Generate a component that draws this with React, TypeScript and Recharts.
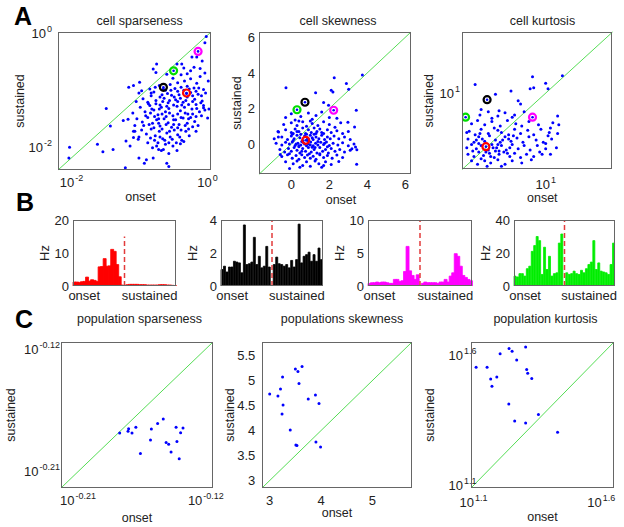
import { ScatterChart, Scatter, XAxis, YAxis, ReferenceLine, BarChart, Bar } from 'recharts';

const FONT = '"Liberation Sans", Arial, Helvetica, sans-serif';
const TEXT = '#222';
const DOT = '#0000ff';
const DIAG = '#55dd55';
const DASH = '#e23b3b';
const EXAMPLE_COLORS = ['#ff0000', '#000000', '#ff00ff', '#00dd00'];

// A: per-cell measures, onset vs sustained (sparseness and kurtosis as log10)
const A1_SPARSENESS_LOG = [
  [-2.03, -2.0], [-2.04, -2.19], [-1.49, -1.32], [-1.43, -1.63], [-1.62, -1.95], [-1.54, -2.08], [-1.39, -2.04],
  [-1.21, -2.36], [-1.24, -1.53], [-1.17, -1.51], [-1.16, -0.95], [-1.09, -0.92], [-1.0, -0.86], [-1.07, -1.72],
  [-0.97, -1.01], [-0.75, -0.54], [-0.8, -0.63], [-0.76, -0.69], [-0.6, -0.72], [-0.45, -0.54], [-0.38, -0.54],
  [-0.35, -0.61], [-0.23, -0.42], [-0.16, -0.42], [-0.04, -0.17], [-0.02, -0.06], [-0.08, -0.49], [0.01, -0.84],
  [0.02, -1.33], [-0.06, -1.31], [0.0, -1.49], [-0.57, -2.34], [-0.6, -2.28], [-0.72, -2.04], [-0.65, -2.04],
  [-0.75, -1.98], [-1.01, -2.19], [-0.9, -2.22], [-0.93, -2.28], [-0.8, -2.19], [-1.2, -1.89], [-1.09, -1.83],
  [-1.14, -1.98], [-1.02, -1.86],
  [-0.85, -0.98], [-0.79, -1.03], [-0.71, -0.92], [-0.67, -1.08], [-0.62, -1.0], [-0.55, -0.9], [-0.48, -0.97],
  [-0.44, -0.87], [-0.39, -0.95], [-0.34, -0.84], [-0.3, -0.93], [-0.25, -0.8], [-0.2, -0.96], [-0.16, -0.88],
  [-0.11, -0.76], [-0.06, -0.99], [-0.04, -0.7], [-0.25, -0.66], [-0.39, -0.73], [-0.51, -0.79], [-0.2, -0.6],
  [-0.3, -0.71], [-0.11, -0.62],
  [-0.95, -1.15], [-0.88, -1.21], [-0.83, -1.1], [-0.76, -1.18], [-0.7, -1.26], [-0.64, -1.14], [-0.58, -1.22],
  [-0.53, -1.09], [-0.47, -1.17], [-0.42, -1.08], [-0.36, -1.21], [-0.3, -1.12], [-0.25, -1.04], [-0.19, -1.16],
  [-0.14, -1.07], [-0.08, -1.19], [-0.03, -1.05],
  [-0.99, -1.3], [-0.92, -1.38], [-0.85, -1.27], [-0.79, -1.35], [-0.73, -1.43], [-0.68, -1.3], [-0.62, -1.38],
  [-0.57, -1.32], [-0.51, -1.45], [-0.45, -1.28], [-0.4, -1.36], [-0.34, -1.3], [-0.29, -1.42], [-0.23, -1.33],
  [-0.17, -1.25], [-0.12, -1.38], [-0.06, -1.27],
  [-1.04, -1.5], [-0.96, -1.56], [-0.88, -1.48], [-0.81, -1.58], [-0.75, -1.52], [-0.7, -1.63], [-0.64, -1.5],
  [-0.58, -1.57], [-0.53, -1.65], [-0.47, -1.52], [-0.42, -1.6], [-0.36, -1.49], [-0.3, -1.58], [-0.25, -1.48],
  [-0.19, -1.55], [-0.14, -1.62],
  [-0.97, -1.7], [-0.9, -1.77], [-0.83, -1.68], [-0.77, -1.8], [-0.71, -1.72], [-0.66, -1.85], [-0.6, -1.75],
  [-0.55, -1.82], [-0.49, -1.7], [-0.44, -1.78], [-0.38, -1.88], [-0.32, -1.72], [-0.27, -1.8],
  [-0.88, -1.92], [-0.81, -2.01], [-0.73, -1.92], [-0.68, -2.06], [-0.62, -1.95], [-0.57, -2.11], [-0.51, -1.98],
  [-0.45, -2.06], [-0.4, -1.94],
  [-0.83, -1.05], [-0.77, -0.95], [-0.7, -1.12], [-0.65, -0.98], [-0.59, -1.06], [-0.54, -1.0], [-0.49, -1.12],
  [-0.44, -1.02], [-0.4, -1.14], [-0.35, -1.0], [-0.31, -1.06], [-0.27, -0.98], [-0.22, -1.1], [-0.17, -1.02],
  [-0.13, -0.96], [-0.09, -1.1],
  [-0.87, -1.24], [-0.82, -1.33], [-0.76, -1.24], [-0.71, -1.33], [-0.66, -1.2], [-0.6, -1.28], [-0.56, -1.18],
  [-0.5, -1.26], [-0.44, -1.2], [-0.38, -1.26], [-0.32, -1.18], [-0.28, -1.25], [-0.22, -1.2], [-0.16, -1.32],
  [-0.1, -1.22], [-0.04, -1.35],
  [-0.91, -1.45], [-0.84, -1.4], [-0.78, -1.46], [-0.72, -1.5], [-0.67, -1.42], [-0.61, -1.46], [-0.56, -1.4],
  [-0.5, -1.52], [-0.44, -1.42], [-0.39, -1.48], [-0.33, -1.4], [-0.28, -1.5], [-0.22, -1.42], [-0.17, -1.46],
  [-0.09, -1.45],
  [-0.94, -1.62], [-0.86, -1.6], [-0.79, -1.66], [-0.72, -1.58], [-0.67, -1.68], [-0.61, -1.6], [-0.56, -1.72],
  [-0.5, -1.6], [-0.44, -1.66], [-0.39, -1.7], [-0.33, -1.62], [-0.28, -1.68], [-0.22, -1.64], [-0.17, -1.72],
  [-0.84, -1.84], [-0.78, -1.88], [-0.7, -1.82], [-0.63, -1.88], [-0.57, -1.92], [-0.52, -1.86], [-0.46, -1.92],
  [-0.41, -1.82], [-0.35, -1.9],
  [-1.01, -1.82], [-1.07, -1.62], [-1.1, -1.4], [-1.05, -1.2], [-1.01, -1.05], [-1.09, -1.72],
];
// example cells, in order red, black, magenta, green
const A1_EXAMPLES = [[-0.31, -1.05], [-0.65, -0.95], [-0.14, -0.32], [-0.5, -0.66]];

const A2_SKEWNESS = [
  [-0.28, 3.17], [2.26, 3.73], [3.74, 3.88], [2.9, 3.4], [3.02, 3.08], [1.28, 2.89], [2.1, 3.02], [2.19, 2.93],
  [1.7, 2.33], [1.96, 2.18], [3.42, 1.9], [2.98, 1.22], [3.33, 0.96], [3.38, -0.17], [3.45, -0.32], [3.19, -0.26],
  [3.44, -1.14], [-0.09, -1.38], [1.7, -1.2], [-0.67, 0.68], [-0.68, 0.4], [-0.58, -0.58],
  [0.0, 1.7], [0.5, 1.55], [0.9, 1.75], [1.3, 1.6], [1.6, 1.8], [2.0, 1.5], [0.2, 1.35], [1.1, 1.4], [2.4, 1.45],
  [-0.3, 1.5],
  [-0.4, 1.1], [0.0, 1.2], [0.3, 1.05], [0.6, 1.25], [0.8, 1.0], [1.1, 1.15], [1.4, 1.05], [1.7, 1.25], [2.0, 1.1],
  [2.3, 0.95], [2.6, 1.2], [1.0, 1.3], [0.4, 1.3],
  [-0.7, 0.7], [-0.3, 0.8], [0.0, 0.65], [0.2, 0.85], [0.4, 0.7], [0.6, 0.9], [0.75, 0.6], [0.9, 0.8], [1.05, 0.65],
  [1.2, 0.9], [1.35, 0.7], [1.5, 0.85], [1.7, 0.6], [1.9, 0.8], [2.1, 0.65], [2.4, 0.75], [2.7, 0.6], [3.0, 0.7],
  [0.1, 0.6], [1.6, 0.65],
  [-0.9, 0.3], [-0.5, 0.4], [-0.2, 0.25], [0.0, 0.45], [0.15, 0.3], [0.3, 0.5], [0.45, 0.35], [0.6, 0.2], [0.7, 0.45],
  [0.85, 0.3], [1.0, 0.5], [1.15, 0.25], [1.3, 0.4], [1.45, 0.3], [1.6, 0.5], [1.75, 0.25], [1.9, 0.4], [2.05, 0.3],
  [2.25, 0.45], [2.5, 0.3], [2.8, 0.4], [3.1, 0.25], [0.5, 0.55], [1.2, 0.55],
  [-0.8, 0.05], [-0.5, -0.05], [-0.3, 0.1], [-0.1, 0.0], [0.05, 0.12], [0.2, -0.08], [0.35, 0.05], [0.5, -0.05],
  [0.62, 0.1], [0.9, 0.0], [1.02, 0.12], [1.15, -0.1], [1.28, 0.05], [1.4, -0.05], [1.55, 0.1], [1.7, -0.02],
  [1.85, 0.12], [2.0, -0.08], [2.2, 0.05], [2.45, -0.05], [2.7, 0.08], [3.0, -0.1], [3.3, 0.0], [0.8, -0.1],
  [-0.6, -0.3], [-0.35, -0.45], [-0.15, -0.25], [0.0, -0.4], [0.15, -0.2], [0.3, -0.35], [0.45, -0.5], [0.6, -0.25],
  [0.75, -0.4], [0.9, -0.2], [1.05, -0.45], [1.2, -0.3], [1.35, -0.5], [1.5, -0.2], [1.65, -0.4], [1.8, -0.3],
  [1.95, -0.5], [2.1, -0.25], [2.3, -0.4], [2.55, -0.3], [2.8, -0.45], [3.1, -0.35], [0.4, -0.15], [1.1, -0.18],
  [-0.5, -0.7], [-0.2, -0.6], [0.05, -0.8], [0.25, -0.65], [0.4, -0.85], [0.55, -0.6], [0.7, -0.75], [0.85, -0.62],
  [1.0, -0.8], [1.15, -0.68], [1.3, -0.85], [1.5, -0.6], [1.7, -0.75], [1.9, -0.65], [2.15, -0.8], [2.4, -0.62],
  [2.7, -0.75],
  [-0.3, -1.0], [0.1, -1.1], [0.3, -0.95], [0.6, -1.2], [0.8, -1.0], [1.0, -1.25], [1.25, -0.95], [1.45, -1.1],
  [1.8, -1.0], [2.1, -1.15], [2.5, -0.98], [0.45, -1.3], [1.6, -1.3],
  [0.1, 0.2], [0.25, 0.0], [0.4, -0.1], [0.55, 0.15], [0.7, 0.0], [0.85, 0.2], [1.0, -0.05], [1.1, 0.35],
  [1.25, -0.2], [1.4, 0.15], [0.3, 0.7], [0.55, -0.4], [0.8, 0.55], [0.95, -0.55], [1.3, 0.6], [1.5, -0.55],
  [1.75, 0.05], [-0.1, -0.55], [0.05, 0.55], [1.9, -0.15],
];
const A2_EXAMPLES = [[0.76, 0.21], [0.72, 2.35], [2.23, 1.9], [0.3, 1.93]];

const A3_KURTOSIS_LOG = [
  [0.41, 1.08], [0.58, 0.99], [0.71, 1.02], [0.89, 1.15], [0.9, 1.05], [0.87, 1.04], [1.0, 1.09], [1.02, 1.04],
  [1.14, 1.16], [0.77, 0.93], [0.79, 0.9], [0.46, 0.85], [0.61, 0.84], [0.34, 0.64], [0.72, 0.78], [1.1, 0.79],
  [1.11, 0.71], [1.04, 0.68], [1.02, 0.61], [1.1, 0.63], [1.0, 0.49], [1.04, 0.44], [1.09, 0.5], [0.95, 0.46],
  [0.45, 0.8], [0.52, 0.83], [0.6, 0.79], [0.66, 0.82], [0.74, 0.8], [0.82, 0.83], [0.55, 0.77],
  [0.38, 0.72], [0.43, 0.75], [0.49, 0.71], [0.55, 0.74], [0.62, 0.7], [0.68, 0.75], [0.75, 0.72], [0.8, 0.7],
  [0.86, 0.74], [0.94, 0.71], [1.06, 0.73],
  [0.36, 0.65], [0.41, 0.62], [0.46, 0.67], [0.52, 0.63], [0.57, 0.68], [0.63, 0.64], [0.69, 0.62], [0.74, 0.67],
  [0.79, 0.63], [0.85, 0.66], [0.9, 0.62], [0.96, 0.67], [1.03, 0.64], [0.6, 0.66],
  [0.35, 0.58], [0.4, 0.55], [0.44, 0.6], [0.49, 0.56], [0.53, 0.61], [0.58, 0.57], [0.62, 0.55], [0.66, 0.6],
  [0.71, 0.56], [0.76, 0.59], [0.81, 0.55], [0.86, 0.6], [0.92, 0.57], [0.98, 0.55], [1.05, 0.58], [0.47, 0.58],
  [0.69, 0.58],
  [0.34, 0.5], [0.38, 0.53], [0.42, 0.49], [0.46, 0.52], [0.52, 0.48], [0.55, 0.53], [0.59, 0.5], [0.63, 0.52],
  [0.67, 0.48], [0.72, 0.53], [0.77, 0.49], [0.82, 0.52], [0.87, 0.48], [0.93, 0.52], [1.0, 0.54], [0.44, 0.54],
  [0.61, 0.47], [0.7, 0.5],
  [0.35, 0.44], [0.4, 0.42], [0.44, 0.46], [0.48, 0.43], [0.53, 0.45], [0.57, 0.41], [0.61, 0.44], [0.65, 0.46],
  [0.7, 0.42], [0.74, 0.45], [0.79, 0.41], [0.84, 0.44], [0.9, 0.42], [0.97, 0.44], [0.46, 0.4], [0.58, 0.47],
  [0.38, 0.38], [0.43, 0.35], [0.49, 0.38], [0.54, 0.36], [0.6, 0.39], [0.66, 0.35], [0.72, 0.38], [0.8, 0.36],
  [0.88, 0.39], [0.51, 0.33], [0.63, 0.33],
  [0.42, 0.57], [0.5, 0.46], [0.56, 0.5], [0.64, 0.57], [0.68, 0.45], [0.45, 0.63], [0.73, 0.61], [0.39, 0.47],
  [0.54, 0.42], [0.6, 0.53],
];
const A3_EXAMPLES = [[0.5, 0.51], [0.51, 0.94], [0.89, 0.78], [0.33, 0.78]];

// B: firing rate (Hz) per time bin of the four example cells
const B1_ONSET = [1.2, 1.2, 1.1, 1.3, 1.4, 2.7, 1.5, 1.9, 1.7, 1.4, 5.8, 5.9, 8.3, 6.0, 6.1, 11.1, 10.5, 6.5, 2.8, 0.3];
const B1_SUSTAINED = [0.4, 0.5, 0.5, 0.5, 0.5, 0.4, 0.4, 0.4, 0.3, 0.3, 0.3, 0.3, 0.3, 0.4, 0.4, 0.4, 0.3, 0.3, 0.2, 0.1];
const B2_ONSET = [1.0, 1.2, 0.85, 1.15, 1.15, 1.5, 1.45, 1.4, 0.8, 3.7, 1.3, 1.35, 1.45, 2.95, 1.3, 1.8, 1.1, 1.2, 2.4, 1.15];
const B2_SUSTAINED = [1.3, 1.75, 1.35, 1.3, 1.2, 1.3, 1.1, 1.55, 1.15, 1.6, 3.75, 1.4, 1.8, 1.9, 2.05, 1.5, 1.9, 1.5, 2.3, 1.6];
const B3_ONSET = [0.4, 0.5, 0.5, 0.6, 0.5, 0.6, 0.6, 0.5, 0.4, 0.4, 1.0, 1.0, 0.7, 0.8, 2.2, 6.0, 2.3, 1.6, 1.0, 1.7];
const B3_SUSTAINED = [0.4, 0.6, 0.5, 0.5, 0.5, 0.5, 0.4, 0.6, 0.6, 1.0, 0.6, 1.5, 2.0, 4.9, 4.5, 3.0, 1.6, 1.3, 1.0, 0.8];
const B4_ONSET = [6, 5.5, 7.5, 7.5, 6, 10.5, 12, 21, 24.5, 30, 27.5, 7, 23.5, 10, 18, 6, 7.5, 8, 26, 31.5];
const B4_SUSTAINED = [8, 7, 7.5, 9, 7.5, 7, 9.5, 8, 10.5, 13, 14.5, 27.5, 10, 14, 9, 8.5, 8, 7, 13, 26];

// C: population measures (sparseness and kurtosis as log10)
const C1_SPARSENESS_LOG = [
  [-0.1807, -0.1817], [-0.1744, -0.1785], [-0.1748, -0.1805], [-0.172, -0.1817], [-0.1693, -0.1775],
  [-0.1661, -0.1968], [-0.1584, -0.1788], [-0.159, -0.1868], [-0.154, -0.1748], [-0.15, -0.1714],
  [-0.148, -0.1887], [-0.1462, -0.19], [-0.1445, -0.1956], [-0.141, -0.1775], [-0.1404, -0.188],
  [-0.1378, -0.1815], [-0.1361, -0.178], [-0.1388, -0.2005],
];
const C2_SKEWNESS = [
  [3.0, 4.73], [3.16, 4.69], [3.21, 4.83], [3.25, 5.07], [3.26, 4.51], [3.24, 4.33], [3.4, 4.01], [3.5, 5.23],
  [3.55, 5.18], [3.57, 4.94], [3.63, 5.28], [3.51, 3.71], [3.53, 3.7], [3.75, 4.63], [3.89, 4.71], [3.96, 4.54],
  [3.9, 3.77], [3.99, 3.67],
];
const C3_KURTOSIS_LOG = [
  [1.11, 1.553], [1.153, 1.553], [1.167, 1.508], [1.172, 1.48], [1.191, 1.516], [1.204, 1.605], [1.239, 1.625],
  [1.251, 1.615], [1.269, 1.581], [1.304, 1.631], [1.308, 1.545], [1.312, 1.53], [1.328, 1.51], [1.238, 1.412],
  [1.261, 1.347], [1.304, 1.339], [1.354, 1.372], [1.429, 1.304],
];

const Dot = (p: any) => <circle cx={p.cx} cy={p.cy} r={1.5} fill={DOT} />;

const ringShape = (color: string) => (p: any) => (
  <g>
    <circle cx={p.cx} cy={p.cy} r={3.5} fill="none" stroke={color} strokeWidth={2.2} />
    <circle cx={p.cx} cy={p.cy} r={1.3} fill={DOT} />
  </g>
);

function PowTick(props: any) {
  const { x, y, payload, vertical, gap } = props;
  const exp = String(payload.value);
  if (vertical) {
    return (
      <text x={x - gap} y={y} dy="0.36em" textAnchor="end" fontSize={13} fill={TEXT}>
        10<tspan dx={1} dy={-6} fontSize={9}>{exp}</tspan>
      </text>
    );
  }
  return (
    <text x={x} y={y + gap} dy="0.8em" textAnchor="middle" fontSize={13} fill={TEXT}>
      10<tspan dx={1} dy={-6} fontSize={9}>{exp}</tspan>
    </text>
  );
}

function ScatterPanel(p: any) {
  const [L, T, w, h] = p.frame;
  const mt = 14, mr = 26, xh = 44;
  const data = p.points.map(([x, y]: number[]) => ({ x, y }));
  return (
    <div style={{ position: 'absolute', left: L - p.yw, top: T - mt }}>
      <ScatterChart width={p.yw + w + mr} height={mt + h + xh} margin={{ top: mt, right: mr, bottom: 0, left: 0 }}>
        <XAxis
          type="number" dataKey="x" domain={p.xDomain} ticks={p.xTicks} allowDataOverflow interval={0}
          axisLine={false} tickLine={false} tickSize={0} tickMargin={p.pow ? 0 : p.xGap} height={xh}
          tick={p.pow ? (t: any) => <PowTick {...t} gap={p.xGap} /> : { fontSize: 13, fill: TEXT }}
          label={{ value: 'onset', position: 'insideTop', offset: p.xlab, dx: p.xlabDx || 0, style: { fontSize: 12.5, fill: TEXT } }}
        />
        <YAxis
          type="number" dataKey="y" domain={p.yDomain} ticks={p.yTicks} allowDataOverflow interval={0}
          axisLine={false} tickLine={false} tickSize={0} tickMargin={p.pow ? 0 : p.yGap} width={p.yw}
          tick={p.pow ? (t: any) => <PowTick {...t} vertical gap={p.yGap} /> : { fontSize: 13, fill: TEXT }}
          label={{ value: 'sustained', angle: -90, position: 'insideLeft', offset: p.yw - p.ylab, style: { textAnchor: 'middle', fontSize: 12.5, fill: TEXT } }}
        />
        <ReferenceLine
          segment={[{ x: p.xDomain[0], y: p.yDomain[0] }, { x: p.xDomain[1], y: p.yDomain[1] }]}
          stroke={DIAG} strokeWidth={1} ifOverflow="visible"
        />
        <Scatter data={data} shape={Dot} isAnimationActive={false} />
        {(p.examples || []).map((e: number[], i: number) => (
          <Scatter key={i} data={[{ x: e[0], y: e[1] }]} shape={ringShape(EXAMPLE_COLORS[i])} isAnimationActive={false} />
        ))}
      </ScatterChart>
      <div style={{ position: 'absolute', left: p.yw, top: mt, width: w, height: h, border: '1px solid #666', boxSizing: 'border-box', pointerEvents: 'none' }} />
    </div>
  );
}

function HistPanel({ left, width, onset, sustained, color, yMax, yTicks, dashTop }: any) {
  const T = 219.5, h = 66, yw = 36, mt = 8, mr = 6, xh = 24;
  const gapBin = onset.length;
  const data = [
    ...onset.map((hz: number, i: number) => ({ bin: i, hz })),
    { bin: gapBin, hz: null },
    ...sustained.map((hz: number, i: number) => ({ bin: gapBin + 1 + i, hz })),
  ];
  return (
    <div style={{ position: 'absolute', left: left - yw, top: T - mt }}>
      <BarChart width={yw + width + mr} height={mt + h + xh} data={data} margin={{ top: mt, right: mr, bottom: 0, left: 0 }} barCategoryGap={0} barGap={0}>
        <XAxis
          dataKey="bin" interval={0} axisLine={false} tickLine={false} tickSize={0} tickMargin={5} height={xh}
          tickFormatter={(v: number) => (v === 4 ? 'onset' : v === 30 ? 'sustained' : '')}
          tick={{ fontSize: 13, fill: TEXT }}
        />
        <YAxis
          domain={[0, yMax]} ticks={yTicks} allowDataOverflow interval={0} width={yw}
          axisLine={false} tickLine={false} tickSize={0} tickMargin={4} tick={{ fontSize: 13, fill: TEXT }}
          label={{ value: 'Hz', angle: -90, position: 'insideLeft', offset: 7, style: { textAnchor: 'middle', fontSize: 13, fill: TEXT } }}
        />
        <Bar dataKey="hz" fill={color} stroke={color} strokeWidth={0.8} isAnimationActive={false} />
        <ReferenceLine
          segment={[{ x: gapBin, y: 0 }, { x: gapBin, y: dashTop }]}
          stroke={DASH} strokeWidth={1.5} strokeDasharray="5 3" ifOverflow="visible"
        />
      </BarChart>
      <div style={{ position: 'absolute', left: yw, top: mt, width, height: h, border: '1px solid #666', boxSizing: 'border-box', pointerEvents: 'none' }} />
    </div>
  );
}

const Txt = ({ x, y, size = 12.5, bold = false, children }: any) => (
  <div style={{ position: 'absolute', left: x, top: y, transform: 'translate(-50%, -50%)', fontSize: size, fontWeight: bold ? 700 : 400, lineHeight: 1, whiteSpace: 'nowrap', color: bold ? '#000' : TEXT }}>
    {children}
  </div>
);

export default function App() {
  return (
    <div style={{ position: 'absolute', left: 0, top: 0, width: 624, height: 527, background: '#fff', fontFamily: FONT, overflow: 'hidden' }}>
      <Txt x={23} y={16} size={25} bold>A</Txt>
      <Txt x={25} y={202} size={25} bold>B</Txt>
      <Txt x={24} y={319} size={25} bold>C</Txt>

      <Txt x={139.7} y={21}>cell sparseness</Txt>
      <Txt x={338} y={21}>cell skewness</Txt>
      <Txt x={542.5} y={21}>cell kurtosis</Txt>
      <Txt x={139.5} y={318.5}>population sparseness</Txt>
      <Txt x={342} y={318.5}>populations skewness</Txt>
      <Txt x={545.5} y={318.5}>population kurtosis</Txt>

      <ScatterPanel frame={[58, 31.7, 153, 138]} points={A1_SPARSENESS_LOG} examples={A1_EXAMPLES}
        xDomain={[-2.2, 0.05]} yDomain={[-2.4, 0.02]} xTicks={[-2, 0]} yTicks={[-2, 0]} pow
        yw={50} ylab={38} xGap={7} yGap={6} xlab={22.5} xlabDx={6} />
      <ScatterPanel frame={[259, 31.7, 152, 142.3]} points={A2_SKEWNESS} examples={A2_EXAMPLES}
        xDomain={[-1.7, 6.3]} yDomain={[-1.7, 6.3]} xTicks={[0, 2, 4, 6]} yTicks={[0, 2, 4, 6]}
        yw={36} ylab={22} xGap={5.5} yGap={4} xlab={20.5} xlabDx={6} />
      <ScatterPanel frame={[461.7, 31.7, 150.6, 137.6]} points={A3_KURTOSIS_LOG} examples={A3_EXAMPLES}
        xDomain={[0.3, 1.56]} yDomain={[0.3, 1.56]} xTicks={[1]} yTicks={[1]} pow
        yw={45} ylab={33} xGap={9.5} yGap={2} xlab={23.5} xlabDx={5} />

      <HistPanel left={72.7} width={103} onset={B1_ONSET} sustained={B1_SUSTAINED} color="#ff0000" yMax={20} yTicks={[0, 10, 20]} dashTop={15} />
      <HistPanel left={221} width={102} onset={B2_ONSET} sustained={B2_SUSTAINED} color="#000000" yMax={4} yTicks={[0, 2, 4]} dashTop={4} />
      <HistPanel left={367.5} width={104} onset={B3_ONSET} sustained={B3_SUSTAINED} color="#ff00ff" yMax={10} yTicks={[0, 5, 10]} dashTop={10} />
      <HistPanel left={514} width={101} onset={B4_ONSET} sustained={B4_SUSTAINED} color="#00ee00" yMax={40} yTicks={[0, 20, 40]} dashTop={40} />

      <ScatterPanel frame={[60.7, 341.7, 152, 146]} points={C1_SPARSENESS_LOG}
        xDomain={[-0.222, -0.115]} yDomain={[-0.222, -0.115]} xTicks={[-0.21, -0.12]} yTicks={[-0.21, -0.12]} pow
        yw={56} ylab={50} xGap={6.6} yGap={1} xlab={24.7} />
      <ScatterPanel frame={[261.7, 341.7, 150, 146]} points={C2_SKEWNESS}
        xDomain={[2.85, 5.77]} yDomain={[2.85, 5.77]} xTicks={[3, 4, 5]} yTicks={[3, 3.5, 4, 4.5, 5, 5.5]}
        yw={45} ylab={32} xGap={7.7} yGap={6.7} xlab={19.7} />
      <ScatterPanel frame={[471, 341.7, 143, 146]} points={C3_KURTOSIS_LOG}
        xDomain={[1.09, 1.65]} yDomain={[1.09, 1.65]} xTicks={[1.1, 1.6]} yTicks={[1.1, 1.6]} pow
        yw={50} ylab={41} xGap={8.3} yGap={-5.5} xlab={24.2} />
    </div>
  );
}
